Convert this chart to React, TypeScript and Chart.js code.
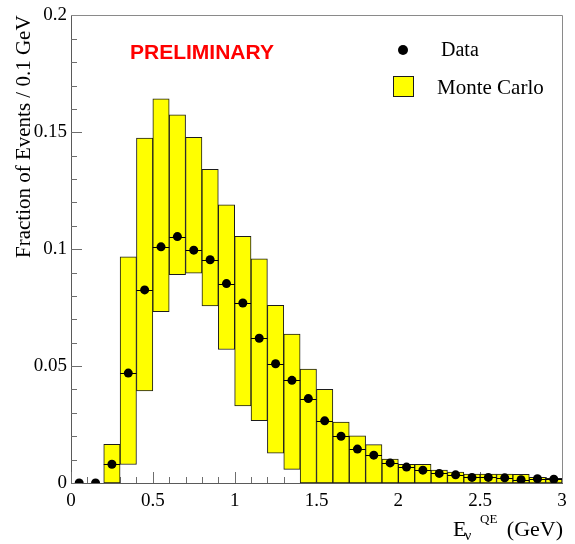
import React, { useEffect, useRef } from 'react';
import { Chart, registerables } from 'chart.js';

Chart.register(...registerables);

// ---------- data ----------
const binCenters = [
  0.05, 0.15, 0.25, 0.35, 0.45, 0.55, 0.65, 0.75, 0.85, 0.95,
  1.05, 1.15, 1.25, 1.35, 1.45, 1.55, 1.65, 1.75, 1.85, 1.95,
  2.05, 2.15, 2.25, 2.35, 2.45, 2.55, 2.65, 2.75, 2.85, 2.95,
];
const binHalfWidth = 0.05;

const dataValues = [
  0, 0, 0.008, 0.047, 0.0826, 0.101, 0.1054, 0.0996, 0.0955, 0.0853,
  0.077, 0.0619, 0.051, 0.0439, 0.0361, 0.0266, 0.02, 0.0145, 0.0119, 0.0086,
  0.0068, 0.0055, 0.0041, 0.0035, 0.0024, 0.0024, 0.0022, 0.0014, 0.0018, 0.0016,
];

const mcLow = [
  null, null, 0, 0.0079, 0.0394, 0.0733, 0.0891, 0.0897, 0.0757, 0.0571,
  0.033, 0.0267, 0.0128, 0.0058, 0, 0, 0, 0, 0, 0,
  0, 0, 0, 0, 0, 0, 0, 0, 0, 0,
];
const mcHigh = [
  null, null, 0.0165, 0.0967, 0.1475, 0.1643, 0.1575, 0.1479, 0.1342, 0.119,
  0.1055, 0.0959, 0.076, 0.0637, 0.0487, 0.0401, 0.0261, 0.0202, 0.0164, 0.0102,
  0.008, 0.008, 0.0055, 0.0047, 0.0038, 0.0038, 0.0038, 0.0037, 0.0024, 0.002,
];

const xTickValues = [0, 0.5, 1, 1.5, 2, 2.5, 3];
const yTickValues = [0, 0.05, 0.1, 0.15, 0.2];
const xMinorStep = 0.1;
const yMinorStep = 0.01;

const yTitle = 'Fraction of Events / 0.1 GeV';
const stampText = 'PRELIMINARY';
const legendData = 'Data';
const legendMC = 'Monte Carlo';

const SERIF = "'Liberation Serif', 'Times New Roman', serif";
const SANS = "'Liberation Sans', Arial, sans-serif";
const AXIS_COLOR = '#5a5a5a';
const MC_FILL = '#ffff00';
const MC_BORDER = '#1c1c1c';

const decorPlugin = {
  id: 'rootDecor',
  beforeDatasetsDraw(chart: any) {
    const { ctx, chartArea: a, scales } = chart;
    const x = scales.x;
    const y = scales.y;
    ctx.save();
    ctx.strokeStyle = '#6e6e6e';
    ctx.lineWidth = 1;
    ctx.beginPath();
    const nx = Math.round((x.max - x.min) / xMinorStep);
    for (let i = 0; i <= nx; i++) {
      const v = x.min + i * xMinorStep;
      const px = Math.round(x.getPixelForValue(v)) + 0.5;
      const len = i % 5 === 0 ? 11 : 6;
      ctx.moveTo(px, a.bottom);
      ctx.lineTo(px, a.bottom - len);
    }
    const ny = Math.round((y.max - y.min) / yMinorStep);
    for (let i = 0; i <= ny; i++) {
      const v = y.min + i * yMinorStep;
      const py = Math.round(y.getPixelForValue(v)) + 0.5;
      const len = i % 5 === 0 ? 11 : 6;
      ctx.moveTo(a.left, py);
      ctx.lineTo(a.left + len, py);
    }
    ctx.stroke();
    // frame top & right
    ctx.strokeStyle = '#8a8a8a';
    ctx.beginPath();
    ctx.moveTo(a.left, Math.round(a.top) + 0.5);
    ctx.lineTo(Math.round(a.right) + 0.5, Math.round(a.top) + 0.5);
    ctx.lineTo(Math.round(a.right) + 0.5, a.bottom);
    ctx.stroke();
    ctx.restore();
  },
  afterDatasetDraw(chart: any, args: any) {
    if (args.index !== 1) return;
    const { ctx, chartArea: a, scales } = chart;
    const x = scales.x;
    const y = scales.y;
    ctx.save();
    ctx.beginPath();
    ctx.rect(a.left, a.top, a.right - a.left, a.bottom - a.top);
    ctx.clip();
    ctx.strokeStyle = '#000';
    ctx.lineWidth = 1;
    ctx.beginPath();
    for (let i = 0; i < binCenters.length; i++) {
      const x0 = x.getPixelForValue(binCenters[i] - binHalfWidth);
      const x1 = x.getPixelForValue(binCenters[i] + binHalfWidth);
      const py = Math.round(y.getPixelForValue(dataValues[i])) + 0.5;
      ctx.moveTo(x0, py);
      ctx.lineTo(x1, py);
    }
    ctx.stroke();
    ctx.restore();
  },
  afterDraw(chart: any) {
    const { ctx, chartArea: a } = chart;
    ctx.save();
    ctx.textBaseline = 'alphabetic';
    // PRELIMINARY stamp
    ctx.fillStyle = '#ff0000';
    ctx.font = `bold 21px ${SANS}`;
    ctx.textAlign = 'left';
    ctx.fillText(stampText, a.left + 59, 59);

    // legend
    ctx.fillStyle = '#000';
    ctx.beginPath();
    ctx.arc(403, 50, 5, 0, Math.PI * 2);
    ctx.fill();
    ctx.font = `20px ${SERIF}`;
    ctx.fillText(legendData, 441, 56);
    ctx.fillStyle = MC_FILL;
    ctx.fillRect(393, 76, 20, 20);
    ctx.strokeStyle = MC_BORDER;
    ctx.lineWidth = 1;
    ctx.strokeRect(393.5, 76.5, 20, 20);
    ctx.fillStyle = '#000';
    ctx.font = `21px ${SERIF}`;
    ctx.fillText(legendMC, 437, 94);

    // x-axis title: E_nu^QE (GeV)
    const base = 536;
    const ex = a.right - 109;
    ctx.font = `22px ${SERIF}`;
    ctx.fillText('E', ex, base);
    const ew = ctx.measureText('E').width;
    ctx.font = `15px ${SERIF}`;
    ctx.fillText('\u03bd', ex + ew - 2, base + 4);
    ctx.font = `13px ${SERIF}`;
    ctx.fillText('QE', a.right - 82, base - 13);
    ctx.font = `22px ${SERIF}`;
    ctx.textAlign = 'right';
    ctx.fillText('(GeV)', a.right + 1, base);
    ctx.restore();
  },
};

export default function App() {
  const canvasRef = useRef<HTMLCanvasElement | null>(null);

  useEffect(() => {
    const canvas = canvasRef.current;
    if (!canvas) return;

    const barData: any[] = [];
    for (let i = 0; i < binCenters.length; i++) {
      if (mcLow[i] === null || mcHigh[i] === null) continue;
      barData.push({ x: binCenters[i], y: [mcLow[i], mcHigh[i]] });
    }
    const pointData = binCenters.map((c, i) => ({ x: c, y: dataValues[i] }));

    const fmt = (v: any) => String(+Number(v).toFixed(3));

    const chart = new Chart(canvas, {
      type: 'bar',
      data: {
        datasets: [
          {
            type: 'scatter',
            label: legendData,
            data: pointData,
            pointStyle: 'circle',
            pointRadius: 4.5,
            backgroundColor: '#000',
            borderColor: '#000',
            borderWidth: 0,
            clip: 0,
          } as any,
          {
            type: 'bar',
            label: legendMC,
            data: barData,
            backgroundColor: MC_FILL,
            borderColor: MC_BORDER,
            borderWidth: 1,
            borderSkipped: false,
            barPercentage: 1,
            categoryPercentage: 1,
            grouped: false,
          } as any,
        ],
      },
      options: {
        responsive: false,
        animation: false,
        events: [],
        layout: { padding: { left: 0, top: 12, right: 13, bottom: 0 } },
        plugins: {
          legend: { display: false },
          tooltip: { enabled: false },
          title: { display: false },
        },
        scales: {
          x: {
            type: 'linear',
            min: 0,
            max: 3,
            offset: false,
            grid: { display: false, drawTicks: false, offset: false },
            border: { display: true, color: AXIS_COLOR, width: 1 },
            ticks: {
              autoSkip: false,
              maxRotation: 0,
              padding: 7,
              color: '#000',
              font: { family: SERIF, size: 19 },
              callback: fmt,
            },
            afterBuildTicks: (scale: any) => {
              scale.ticks = xTickValues.map((v) => ({ value: v }));
            },
            afterFit: (scale: any) => {
              scale.height = 61;
            },
          } as any,
          y: {
            type: 'linear',
            min: 0,
            max: 0.2,
            grid: { display: false, drawTicks: false },
            border: { display: true, color: AXIS_COLOR, width: 1 },
            ticks: {
              autoSkip: false,
              padding: 4,
              color: '#000',
              font: { family: SERIF, size: 19 },
              callback: fmt,
            },
            title: {
              display: true,
              text: yTitle,
              align: 'end',
              color: '#000',
              font: { family: SERIF, size: 21 },
              padding: { top: 12, bottom: 0 },
            },
            afterBuildTicks: (scale: any) => {
              scale.ticks = yTickValues.map((v) => ({ value: v }));
            },
            afterFit: (scale: any) => {
              scale.width = 71;
            },
          } as any,
        },
      },
      plugins: [decorPlugin],
    } as any);

    return () => {
      chart.destroy();
    };
  }, []);

  return (
    <div style={{ position: 'absolute', left: 0, top: 0, width: 575, height: 544, background: '#fff' }}>
      <canvas ref={canvasRef} width={575} height={544} style={{ display: 'block' }} />
    </div>
  );
}
